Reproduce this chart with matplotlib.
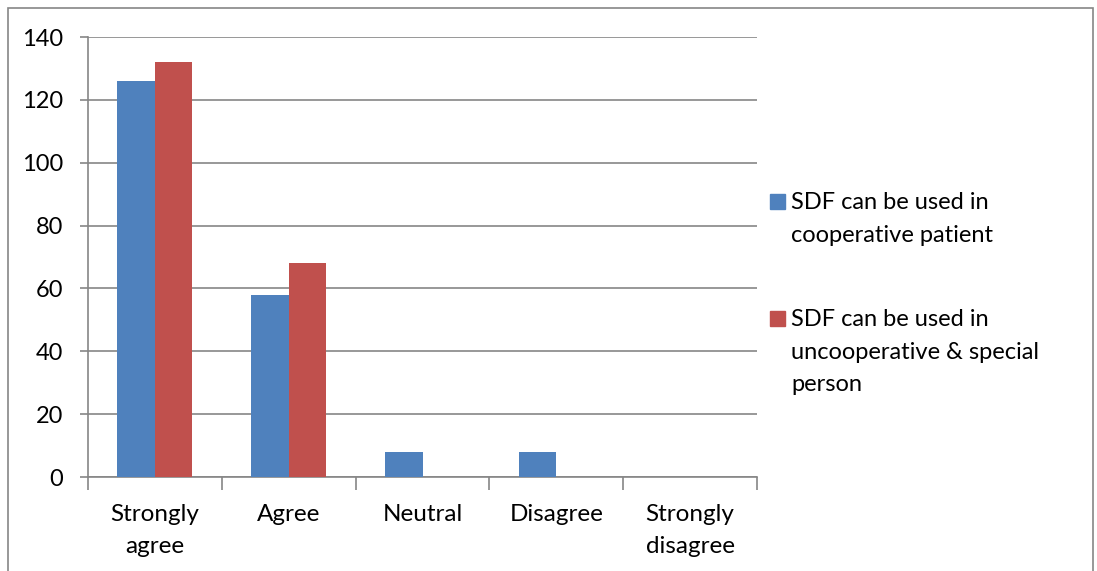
import matplotlib.pyplot as plt
from matplotlib.patches import Rectangle
import numpy as np

# survey responses
categories = ['Strongly\nagree', 'Agree', 'Neutral', 'Disagree', 'Strongly\ndisagree']
cooperative = [126, 58, 8, 8, 0]
uncooperative = [132, 68, 0, 0, 0]
series_names = ['SDF can be used in\ncooperative patient',
                'SDF can be used in\nuncooperative & special\nperson']
colors = ['#4F81BD', '#C0504D']

plt.rcParams['font.family'] = ['Lato', 'DejaVu Sans']
grid_color = '#868686'

fig = plt.figure(figsize=(10.97, 5.71), dpi=100)
ax = fig.add_axes([88/1097, 1-477/571, 669/1097, 440/571])

x = np.arange(len(categories))
w = 0.28
ax.bar(x - w/2, cooperative, w, color=colors[0], zorder=3)
ax.bar(x + w/2, uncooperative, w, color=colors[1], zorder=3)

ax.set_xlim(-0.5, len(categories) - 0.5)
ax.set_ylim(0, 140)
ax.set_yticks(range(0, 141, 20))
ax.yaxis.grid(True, color=grid_color, linewidth=1.2, zorder=0)

# category ticks sit between groups, labels at centers
ax.set_xticks(np.arange(-0.5, len(categories)), minor=False)
ax.set_xticklabels([''] * (len(categories) + 1))
ax.set_xticks(x, minor=True)
ax.set_xticklabels(categories, minor=True, fontsize=17.5, linespacing=1.62)
ax.tick_params(axis='x', which='major', length=9, color=grid_color, width=1.2, direction='out')
ax.tick_params(axis='x', which='minor', length=0, pad=19.5)
ax.tick_params(axis='y', length=6, color=grid_color, width=1.2, labelsize=17, pad=12)

for s in ['top', 'right']:
    ax.spines[s].set_visible(False)
for s in ['left', 'bottom']:
    ax.spines[s].set_color(grid_color)
    ax.spines[s].set_linewidth(1.2)

# legend drawn by hand so the swatch lines up with the first text line
legend_y = [201, 318]
for name, c, ly in zip(series_names, colors, legend_y):
    fig.patches.append(Rectangle((770/1097, 1-(ly+8)/571), 15/1097, 15/571,
                                 transform=fig.transFigure, color=c))
    fig.text(791/1097, 1-(ly-9)/571, name, fontsize=17, va='top', linespacing=1.68)

# outer chart border
fig.patches.append(Rectangle((8/1097, -0.05), 1085/1097, 1.05 - 8/571, transform=fig.transFigure,
                             fill=False, edgecolor=grid_color, linewidth=1.2))

fig.savefig('out.png', dpi=100)
